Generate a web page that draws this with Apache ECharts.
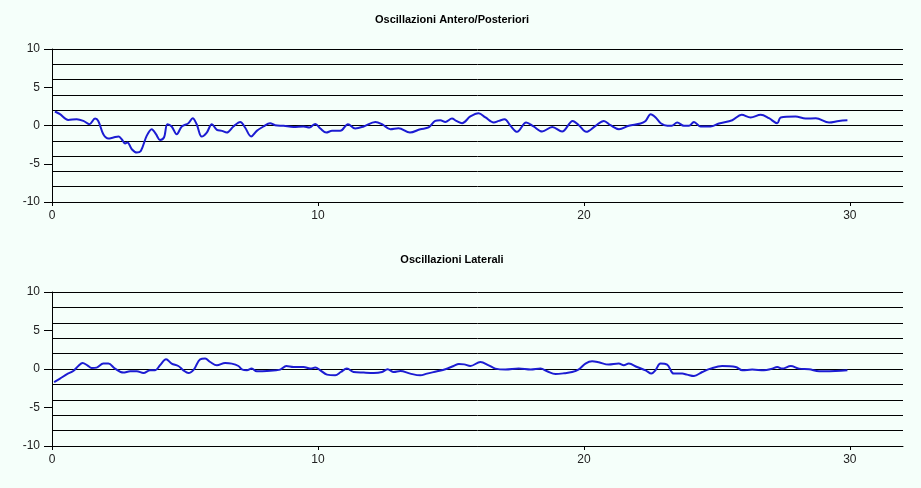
<!DOCTYPE html>
<html>
<head>
<meta charset="utf-8">
<script src="https://cdn.jsdelivr.net/npm/echarts@6/dist/echarts.min.js"></script>
<style>
html,body{margin:0;padding:0;background:#F5FFFA;}
#c{width:921px;height:488px;}
</style>
</head>
<body>
<div id="c"></div>
<script>
const titleTop = "Oscillazioni Antero/Posteriori";
const titleBottom = "Oscillazioni Laterali";
const xTickLabels = [0, 10, 20, 30];
const yTickLabels = [-10, -5, 0, 5, 10];

const apTime = [0.11,0.3,0.61,0.93,1.18,1.41,1.62,1.74,1.93,2.12,2.31,2.5,2.62,2.75,2.84,3.0,3.19,3.34,3.56,3.75,3.91,4.06,4.21,4.34,4.5,4.69,4.88,5.13,5.29,5.44,5.63,5.82,6.01,6.2,6.39,6.57,6.82,7.08,7.26,7.49,7.7,7.95,8.2,8.39,8.71,9.08,9.46,9.68,9.9,10.09,10.31,10.53,10.84,11.13,11.4,11.72,12.16,12.41,12.72,13.03,13.46,13.85,14.16,14.41,14.6,14.79,15.04,15.2,15.42,15.73,16.04,16.3,16.61,16.8,17.02,17.24,17.49,17.83,18.11,18.43,18.81,19.18,19.58,19.81,20.09,20.44,20.75,21.0,21.32,21.69,22.13,22.32,22.51,22.7,22.89,23.14,23.3,23.51,23.76,23.95,24.14,24.39,24.76,25.08,25.58,25.93,26.27,26.65,26.96,27.27,27.4,27.96,28.34,28.72,29.22,29.59,29.91];
const apValue = [1.83,1.48,0.73,0.82,0.6,0.17,0.91,0.6,-1.14,-1.7,-1.57,-1.44,-1.79,-2.35,-2.22,-3.1,-3.53,-3.32,-1.36,-0.48,-1.14,-1.88,-1.57,0.17,-0.13,-1.14,-0.13,0.3,0.95,0.17,-1.44,-0.92,0.17,-0.57,-0.7,-0.92,-0.13,0.47,-0.26,-1.44,-0.7,-0.13,0.3,0.04,-0.04,-0.18,-0.13,-0.26,0.21,-0.39,-0.92,-0.7,-0.7,0.17,-0.39,-0.13,0.47,0.17,-0.48,-0.35,-0.92,-0.48,-0.26,0.6,0.69,0.47,0.91,0.6,0.3,1.18,1.61,1.05,0.39,0.6,0.82,-0.04,-0.83,0.39,-0.13,-0.79,-0.18,-0.79,0.6,0.04,-0.83,-0.04,0.6,0.04,-0.48,-0.04,0.26,0.6,1.48,1.05,0.3,-0.04,-0.04,0.39,-0.04,-0.04,0.47,-0.13,-0.13,0.26,0.69,1.39,1.05,1.39,0.95,0.3,1.05,1.18,0.91,0.95,0.39,0.6,0.69];

const latTime = [0.08,0.3,0.55,0.8,0.99,1.15,1.33,1.49,1.68,1.93,2.12,2.37,2.68,2.94,3.19,3.44,3.69,3.88,4.06,4.29,4.5,4.75,4.94,5.13,5.34,5.57,5.76,5.95,6.2,6.51,6.76,7.01,7.14,7.33,7.51,7.7,8.08,8.58,8.81,9.08,9.46,9.71,9.9,10.09,10.34,10.65,10.86,11.09,11.34,11.72,12.1,12.41,12.62,12.85,13.1,13.47,13.85,14.1,14.48,14.79,15.1,15.3,15.5,15.73,16.11,16.42,16.67,17.05,17.55,18.0,18.37,18.62,18.93,19.25,19.56,19.81,20.06,20.31,20.56,20.93,21.31,21.5,21.69,22.0,22.32,22.54,22.69,22.88,23.13,23.38,23.7,23.88,24.14,24.45,24.76,25.2,25.71,25.96,26.33,26.77,27.08,27.27,27.46,27.78,28.09,28.47,28.85,29.1,29.47,29.91];
const latValue = [-1.69,-1.25,-0.69,-0.26,0.39,0.78,0.48,0.13,0.18,0.7,0.7,0.05,-0.47,-0.3,-0.3,-0.52,-0.17,-0.17,0.48,1.26,0.7,0.39,-0.17,-0.52,-0.04,1.26,1.35,0.91,0.48,0.78,0.7,0.39,-0.04,-0.17,0.05,-0.3,-0.26,-0.08,0.39,0.26,0.26,0.05,0.18,-0.17,-0.73,-0.82,-0.39,0.05,-0.39,-0.47,-0.52,-0.39,-0.04,-0.39,-0.26,-0.6,-0.82,-0.6,-0.3,-0.04,0.39,0.65,0.6,0.39,0.91,0.48,0.05,-0.08,0.05,-0.08,0.05,-0.3,-0.65,-0.56,-0.39,-0.04,0.7,1.0,0.87,0.57,0.7,0.48,0.7,0.26,-0.17,-0.6,-0.17,0.7,0.57,-0.6,-0.6,-0.73,-0.91,-0.39,0.05,0.39,0.26,-0.17,-0.08,-0.17,0.05,0.26,0.05,0.39,0.05,-0.04,-0.3,-0.3,-0.26,-0.17];

const pairs = (xs, ys) => xs.map((x, i) => [x, ys[i]]);

const FONT = "Liberation Sans";
const lineColor = "#1c1cd2";

function xAxisFor(gi) {
  return {
    type: 'value', gridIndex: gi, min: 0, max: 32, interval: 10,
    axisLine: { show: true, onZero: false, lineStyle: { color: '#000', width: 1 } },
    axisTick: { show: true, length: 4, customValues: xTickLabels, lineStyle: { color: '#000' } },
    axisLabel: { customValues: xTickLabels, margin: 8, color: '#222', fontFamily: FONT, fontSize: 12 },
    splitLine: { show: false }
  };
}
function yGridAxis(gi) {
  return {
    type: 'value', gridIndex: gi, min: -10, max: 10, interval: 2, position: 'left',
    axisLine: { show: true, lineStyle: { color: '#000', width: 1 } },
    axisTick: { show: false },
    axisLabel: { show: false },
    splitLine: { show: true, lineStyle: { color: '#000', width: 1 } }
  };
}
function yLabelAxis(gi) {
  return {
    type: 'value', gridIndex: gi, min: -10, max: 10, interval: 5, position: 'left',
    axisLine: { show: false },
    axisTick: { show: true, length: 8, lineStyle: { color: '#000' } },
    axisLabel: { show: true, margin: 12, color: '#222', fontFamily: FONT, fontSize: 12 },
    splitLine: { show: false }
  };
}

const chart = echarts.init(document.getElementById('c'), null, { renderer: 'canvas' });
chart.setOption({
  backgroundColor: '#F5FFFA',
  animation: false,
  title: [
    { text: titleTop, left: 452, textAlign: 'center', top: 14, padding: 0,
      textStyle: { fontFamily: FONT, fontSize: 11, fontWeight: 'bold', color: '#000' } },
    { text: titleBottom, left: 452, textAlign: 'center', top: 254, padding: 0,
      textStyle: { fontFamily: FONT, fontSize: 11, fontWeight: 'bold', color: '#000' } }
  ],
  grid: [
    { left: 52, top: 49, width: 851, height: 153, containLabel: false },
    { left: 52, top: 292, width: 851, height: 154, containLabel: false }
  ],
  xAxis: [xAxisFor(0), xAxisFor(1)],
  yAxis: [yGridAxis(0), yLabelAxis(0), yGridAxis(1), yLabelAxis(1)],
  series: [
    { type: 'line', xAxisIndex: 0, yAxisIndex: 0, data: pairs(apTime, apValue),
      smooth: 0.35, showSymbol: false, lineStyle: { color: lineColor, width: 2 } },
    { type: 'line', xAxisIndex: 1, yAxisIndex: 2, data: pairs(latTime, latValue),
      smooth: 0.35, showSymbol: false, lineStyle: { color: lineColor, width: 2 } }
  ]
});
</script>
</body>
</html>
